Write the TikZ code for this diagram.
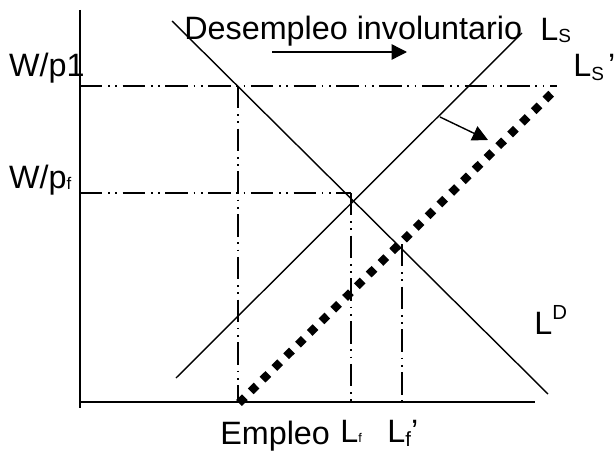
\documentclass[tikz,border=0pt]{standalone}
\usepackage{fontspec}
\setmainfont{Liberation Sans}
\usepackage{tikz}
\usetikzlibrary{arrows.meta}

\newcommand{\lowtxt}[3]{\raisebox{#1}{\fontsize{#2}{#2}\selectfont #3}}

\begin{document}
\begin{tikzpicture}[
    lbl/.style={font=\fontsize{23}{27}\selectfont, inner sep=0pt, anchor=base west},
    guide/.style={line width=1pt, dash pattern=on 16pt off 4pt on 1.2pt off 4pt on 1.2pt off 4pt},
    curve/.style={line width=1pt},
    shiftarrow/.style={line width=1pt, -{Triangle[length=11pt,width=11pt]}}
  ]
    \useasboundingbox (0,0) rectangle (15.375,11.275);

    % axes
    \draw[line width=1.4pt] (2,11.025) -- (2,1.075);
    \draw[line width=1.4pt] (2,1.225) -- (13.375,1.225);

    % points
    \coordinate (w1) at (2,9.125);
    \coordinate (w1end) at (13.925,9.125);
    \coordinate (wf) at (2,6.45);
    \coordinate (e1) at (5.95,9.125);
    \coordinate (e1b) at (5.95,1.225);
    \coordinate (ef) at (8.775,6.45);
    \coordinate (efb) at (8.775,1.225);
    \coordinate (eg) at (10.05,5.175);
    \coordinate (egb) at (10.05,1.225);

    % guides
    \draw[guide] (w1) -- (w1end);
    \draw[guide] (e1) -- (e1b);
    \draw[guide] (wf) -- (ef);
    \draw[guide] (ef) -- (efb);
    \draw[guide] (eg) -- (egb);

    % curves
    \coordinate (ld1) at (4.3,10.75);
    \coordinate (ld2) at (13.7,1.425);
    \coordinate (ls1) at (4.4,1.825);
    \coordinate (ls2) at (13.05,10.45);
    \coordinate (lsn1) at (5.975,1.2);
    \coordinate (lsn2) at (13.925,9.075);
    \draw[curve] (ld1) -- (ld2);
    \draw[curve] (ls1) -- (ls2);
    \draw[line width=5.8pt, line cap=butt, dash pattern=on 5.8pt off 6pt] (lsn1) -- (lsn2);

    % arrows
    \coordinate (a1) at (6.8,9.975);
    \coordinate (a2) at (10.175,9.975);
    \coordinate (b1) at (11.0,8.35);
    \coordinate (b2) at (12.2,7.775);
    \draw[shiftarrow] (a1) -- (a2);
    \draw[shiftarrow] (b1) -- (b2);

    % labels
    \node[lbl] (wp1) at (0.22,9.35) {W/p1};
    \node[lbl] (wpf) at (0.22,6.575) {W/p\lowtxt{-1.4pt}{12}{f}};
    \node[lbl] (desemp) at (4.6,10.3) {Desempleo involuntario};
    \node[lbl] (ls) at (13.5,10.275) {L\lowtxt{-2.1pt}{13.5}{S}};
    \node[lbl] (lsnew) at (14.325,9.35) {L\lowtxt{-2.8pt}{13.5}{S}\hspace{3pt}’};
    \node[lbl] (ld) at (13.35,2.925) {L\lowtxt{10pt}{14.5}{D}};
    \node[lbl] (empleo) at (5.5,0.175) {Empleo};
    \node[lbl] (lf) at (8.5,0.225) {L\lowtxt{0pt}{9}{f}};
    \node[lbl] (lfnew) at (9.68,0.225) {L\lowtxt{-3.5pt}{14.6}{f}’};
\end{tikzpicture}
\end{document}
